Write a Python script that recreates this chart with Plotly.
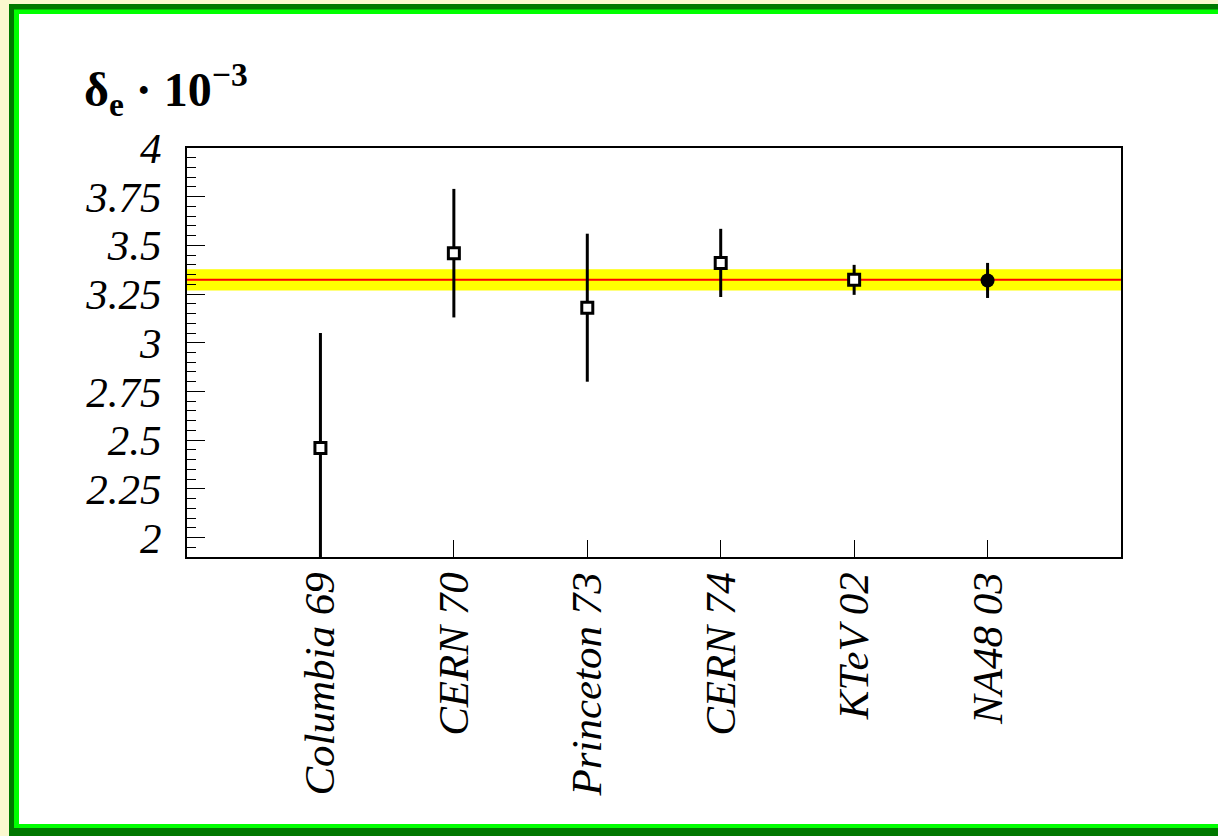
import plotly.graph_objects as go

# ---- data ----
experiments = ["Columbia 69", "CERN 70", "Princeton 73", "CERN 74", "KTeV 02", "NA48 03"]
positions = [1, 2, 3, 4, 5, 6]
delta_e = [2.46, 3.46, 3.18, 3.41, 3.323, 3.32]
delta_err = [0.59, 0.33, 0.38, 0.175, 0.077, 0.09]
filled = [False, False, False, False, False, True]
average = 3.323
average_err = 0.055
y_tick_vals = [2, 2.25, 2.5, 2.75, 3, 3.25, 3.5, 3.75, 4]
y_tick_text = ["2", "2.25", "2.5", "2.75", "3", "3.25", "3.5", "3.75", "4"]

W, H = 1218, 836
L, R, T, B = 187, 1121, 148, 557
pw, ph = R - L, B - T
SERIF = "Liberation Serif, Times New Roman, Times, serif"


def px(x):
    return (x - L) / pw


def py(y):
    return (B - y) / ph


fig = go.Figure()

open_x = [p for p, f in zip(positions, filled) if not f]
open_y = [v for v, f in zip(delta_e, filled) if not f]
open_e = [e for e, f in zip(delta_err, filled) if not f]
full_x = [p for p, f in zip(positions, filled) if f]
full_y = [v for v, f in zip(delta_e, filled) if f]
full_e = [e for e, f in zip(delta_err, filled) if f]

fig.add_trace(go.Scatter(
    x=open_x, y=open_y, mode="markers",
    marker=dict(symbol="square", size=11, color="white",
                line=dict(color="black", width=3)),
    error_y=dict(type="data", array=open_e, visible=True,
                 color="black", thickness=3, width=0),
    showlegend=False, hoverinfo="skip",
))
fig.add_trace(go.Scatter(
    x=full_x, y=full_y, mode="markers",
    marker=dict(symbol="circle", size=14, color="black",
                line=dict(color="black", width=0)),
    error_y=dict(type="data", array=full_e, visible=True,
                 color="black", thickness=3, width=0),
    showlegend=False, hoverinfo="skip",
))

shapes = [
    # outer frame: dark green, bright green, white
    dict(type="rect", xref="paper", yref="paper", layer="below",
         x0=px(9), x1=px(W + 5), y0=py(H + 5), y1=py(4),
         fillcolor="#007800", line=dict(width=0)),
    dict(type="rect", xref="paper", yref="paper", layer="below",
         x0=px(14), x1=px(W + 5), y0=py(828), y1=py(9.5),
         fillcolor="#00FF00", line=dict(width=0)),
    dict(type="rect", xref="paper", yref="paper", layer="below",
         x0=px(19), x1=px(W + 5), y0=py(824), y1=py(14),
         fillcolor="white", line=dict(width=0)),
    # average band
    dict(type="rect", xref="paper", yref="y", layer="below",
         x0=0, x1=1, y0=average - average_err, y1=average + average_err,
         fillcolor="#FFFF00", line=dict(width=0)),
    dict(type="line", xref="paper", yref="y", layer="below",
         x0=0, x1=1, y0=average, y1=average,
         line=dict(color="#FF0000", width=2)),
]

fig.update_layout(
    width=W, height=H,
    margin=dict(l=L, r=W - R, t=T, b=H - B, pad=0),
    paper_bgcolor="#FBF8CF",
    plot_bgcolor="white",
    shapes=shapes,
    showlegend=False,
    font=dict(family=SERIF, color="black"),
    annotations=[dict(
        xref="paper", yref="paper", x=px(82), y=py(90),
        xanchor="left", yanchor="middle", showarrow=False,
        text="<b>δ<sub>e</sub> · 10<sup>−3</sup></b>",
        font=dict(family=SERIF, size=48, color="black"),
    )],
)

fig.update_xaxes(
    range=[0, 7], tickmode="array", tickvals=positions, ticktext=experiments,
    tickangle=-90, ticks="inside", ticklen=17, tickwidth=1, tickcolor="black",
    showgrid=False, zeroline=False, showline=True, linewidth=2,
    linecolor="black", mirror=True, ticklabelstandoff=-4,
    tickfont=dict(family=SERIF, size=43, color="black", style="italic"),
)
fig.update_yaxes(
    range=[1.9, 4], tickmode="array", tickvals=y_tick_vals, ticktext=y_tick_text,
    ticks="inside", ticklen=18, tickwidth=1, tickcolor="black",
    minor=dict(dtick=0.05, tick0=0, ticks="inside", ticklen=9,
               tickwidth=1, tickcolor="black", showgrid=False),
    showgrid=False, zeroline=False, showline=True, linewidth=2,
    linecolor="black", mirror=True, ticklabelstandoff=15,
    tickfont=dict(family=SERIF, size=43, color="black", style="italic"),
)

fig.write_html(
    "out.html",
    config={"displayModeBar": False},
    post_script="document.body.style.margin='0px';document.body.style.overflow='hidden';",
)
